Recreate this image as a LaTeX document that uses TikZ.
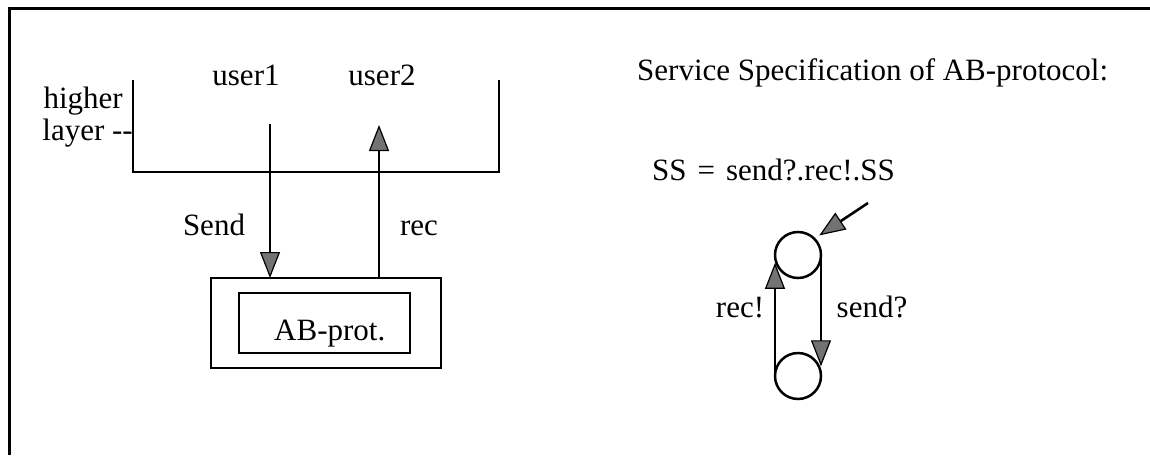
\documentclass[tikz,border=0pt]{standalone}
\usepackage{fontspec}
\setmainfont{Liberation Serif}
\usetikzlibrary{arrows.meta}
\begin{document}
\begin{tikzpicture}[x=1pt,y=-1pt,
  lbl/.style={inner sep=0pt, font=\fontsize{31}{34}\selectfont},
  ln/.style={line width=2pt},
  frm/.style={line width=3pt},
  tri/.style={-{Triangle[length=26pt,width=20pt,fill=black!55,line width=1.2pt]}, line width=2pt},
  boxn/.style={draw, line width=2.5pt, inner sep=0pt, outer sep=0pt},
  state/.style={draw, circle, line width=2.5pt, minimum size=46pt, inner sep=0pt, outer sep=0pt}]
\useasboundingbox (0,0) rectangle (1150,455);
% frame
\coordinate (f0) at (9,455);
\coordinate (f1) at (9,8);
\coordinate (f2) at (1150,8);
\draw[frm] (f0) -- (f1) -- (f2);
% higher layer U
\coordinate (ul) at (133,80);
\coordinate (ubl) at (133,172);
\coordinate (ubr) at (499,172);
\coordinate (ur) at (499,80);
\draw[ln] (ul) -- (ubl) -- (ubr) -- (ur);
\node[lbl, anchor=base] (u1) at (246,85) {user1};
\node[lbl, anchor=base] (u2) at (382,85) {user2};
\node[lbl, anchor=base east] (hi) at (123,108) {higher};
\node[lbl, anchor=base east] (la) at (133,140) {layer -{}-};
% protocol box
\node[boxn, minimum width=230pt, minimum height=90pt] (outer) at (326,323) {};
\node[boxn, minimum width=171pt, minimum height=60pt] (inner) at (324.5,323) {};
\node[lbl, anchor=base west] (ab) at (274,340) {AB-prot.};
% arrows
\coordinate (s1) at (270,124);
\coordinate (r1) at (379,125);
\draw[tri] (s1) -- (s1 |- outer.north);
\draw[tri] (r1 |- outer.north) -- (r1);
\node[lbl, anchor=base] (sendl) at (214,235) {Send};
\node[lbl, anchor=base] (recl) at (419,235) {rec};
% right part
\node[lbl, anchor=base west] (title) at (637,80) {Service Specification of AB-protocol:};
\node[lbl, anchor=base west] (eq) at (652,180) {SS\hspace{11pt}=\hspace{11pt}send?.rec!.SS};
\node[state] (c1) at (798,255) {};
\node[state] (c2) at (798,376) {};
\coordinate (i0) at (868,203);
\draw[tri, line width=2.6pt, shorten >=6pt] (i0) -- (c1.45);
\draw[tri] (c1.east) -- (c1.east |- c2.25);
\draw[tri] (c2.west) -- (c2.west |- c1.200);
\node[lbl, anchor=base] (recx) at (740,317) {rec!};
\node[lbl, anchor=base] (sendq) at (872,317) {send?};
\end{tikzpicture}
\end{document}
